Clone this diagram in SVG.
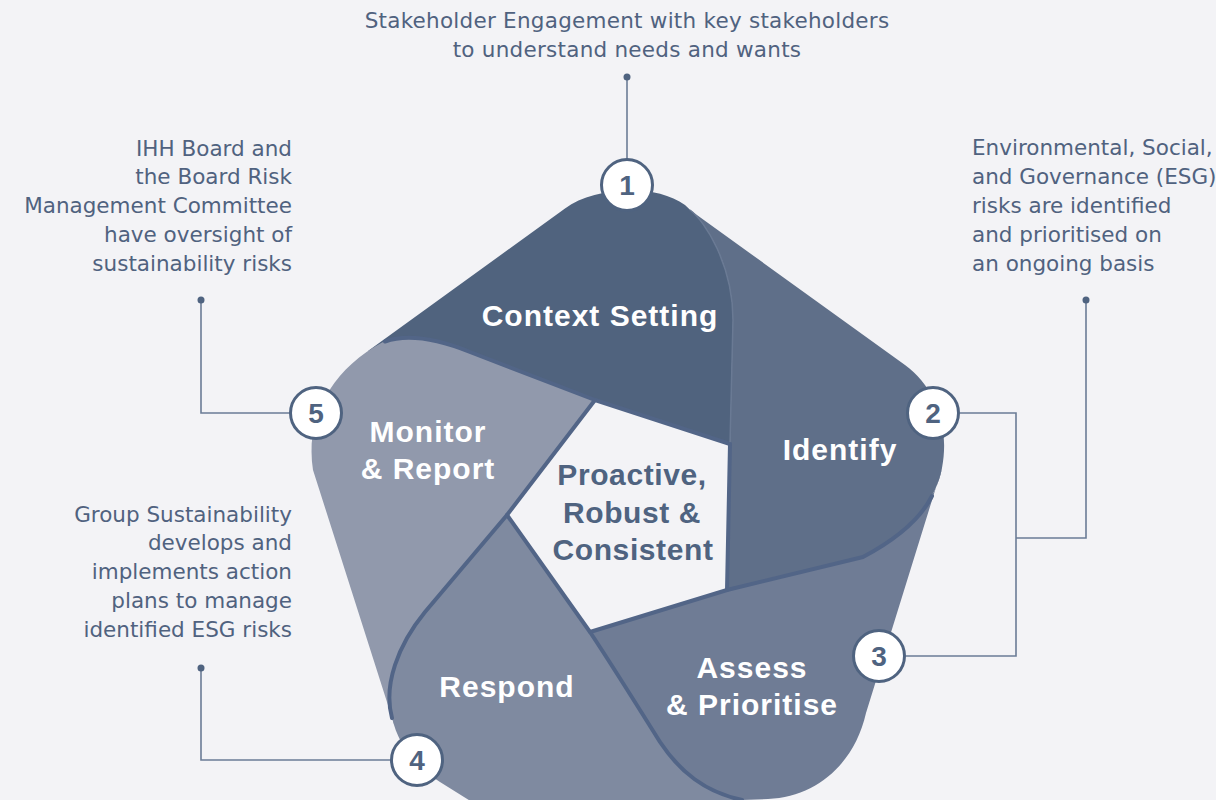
<svg xmlns="http://www.w3.org/2000/svg" width="1216" height="800" viewBox="0 0 1216 800">
  <defs>
    <style>
      .body { font-family: "DejaVu Sans", "Liberation Sans", sans-serif; font-size: 21.5px; fill: #50627f; }
      .wide { letter-spacing: 0.25px; }
      .lbl { font-family: "Liberation Sans", Arial, sans-serif; font-weight: bold; font-size: 30px; fill: #ffffff; letter-spacing: 1px; text-anchor: middle; }
      .ctr { font-family: "Liberation Sans", Arial, sans-serif; font-weight: bold; font-size: 30px; fill: #4f6380; letter-spacing: 0.6px; text-anchor: middle; }
      .num { font-family: "Liberation Sans", Arial, sans-serif; font-weight: bold; font-size: 28px; fill: #4f6380; text-anchor: middle; }
      .badge { fill: #ffffff; stroke: #4f6380; stroke-width: 3; }
      .conn { fill: none; stroke: #6b7c96; stroke-width: 1.6; }
      .dot { fill: #4f6380; }
      .edge { fill: none; stroke: #526587; stroke-width: 4; stroke-linejoin: round; stroke-linecap: round; }
    </style>
  </defs>
  <rect width="1216" height="800" fill="#f3f3f6"/>

  <!-- blades -->
  <g id="blade-context">
    <path d="M 368,351 L 565,208.5 C 595,186.5 655,183.4 685,205 L 690,209.8 C 705,221 733,265 733,320 L 730,444 L 595,400 L 470,352 L 420,346 Z" fill="#50637e"/>
    <text class="lbl" x="600" y="326">Context Setting</text>
  </g>
  <g id="blade-monitor">
    <path d="M 595,400 L 507,515 L 425,612 L 430,690 L 394,724 L 313,470 C 305,420 330,370 383,342 C 410,332 440,340 470,352 Z" fill="#9199ac"/>
    <text class="lbl" x="428" y="442">Monitor</text>
    <text class="lbl" x="428" y="479">&amp; Report</text>
  </g>
  <g id="blade-respond">
    <path d="M 507,515 L 425,612 C 398,645 383,685 392,718 C 398,742 412,765 440,782 L 472,802 L 745,802 L 700,700 L 590,632 Z" fill="#7f8aa0"/>
    <text class="lbl" x="507" y="697">Respond</text>
  </g>
  <g id="blade-assess">
    <path d="M 590,632 L 727,590 L 863,557 C 905,535 935,505 942,468 L 866,713 C 855,762 818,797 768,799 L 742,800 C 705,792 680,772 660,742 C 640,710 610,662 590,632 Z" fill="#6f7c95"/>
    <text class="lbl" x="752" y="678">Assess</text>
    <text class="lbl" x="752" y="715">&amp; Prioritise</text>
  </g>
  <g id="blade-identify">
    <path d="M 690,210 L 905,365 C 935,387 950,425 942,468 C 935,505 905,535 863,557 L 727,590 L 730,444 L 733,320 C 733,265 705,221 690,210 Z" fill="#5f6f89"/>
    <text class="lbl" x="840" y="460">Identify</text>
  </g>

  <!-- blade borders -->
  <g id="borders">
    <path class="edge" d="M 385,341.5 C 410,333 440,340 470,352 L 595,400 L 730,444" stroke="#586a88" stroke-linecap="butt"/>
    <path d="M 690,210 C 705,221 733,265 733,320 L 730,444" fill="none" stroke="#6a7a94" stroke-width="1.5"/>
    <path class="edge" d="M 730,444 L 727,590"/>
    <path class="edge" d="M 590,632 L 727,590 L 863,557 C 895,540 920,520 932,496" stroke-linecap="butt"/>
    <path class="edge" d="M 507,515 L 590,632 C 610,662 640,710 660,742 C 680,772 705,792 742,800"/>
    <path class="edge" d="M 595,400 L 507,515 L 425,612 C 398,645 383,685 392,718" stroke-linecap="butt"/>
  </g>

  <g id="center-label">
    <text class="ctr" x="632" y="485">Proactive,</text>
    <text class="ctr" x="632" y="523">Robust &amp;</text>
    <text class="ctr" x="633" y="560">Consistent</text>
  </g>

  <!-- connectors -->
  <g id="connectors">
    <path class="conn" d="M 627,77 L 627,159"/>
    <circle class="dot" cx="627" cy="77" r="3.5"/>
    <path class="conn" d="M 960,413 L 1016,413 L 1016,656 L 906,656 M 1016,538 L 1086,538 L 1086,300"/>
    <circle class="dot" cx="1086" cy="300" r="3.5"/>
    <path class="conn" d="M 201,300 L 201,413 L 290,413"/>
    <circle class="dot" cx="201" cy="300" r="3.5"/>
    <path class="conn" d="M 201,668 L 201,760 L 391,760"/>
    <circle class="dot" cx="201" cy="668" r="3.5"/>
  </g>

  <!-- badges -->
  <g id="badge-1"><circle class="badge" cx="627" cy="185" r="25.5"/><text class="num" x="627" y="195">1</text></g>
  <g id="badge-2"><circle class="badge" cx="933" cy="413" r="25.5"/><text class="num" x="933" y="423">2</text></g>
  <g id="badge-3"><circle class="badge" cx="879" cy="656" r="25.5"/><text class="num" x="879" y="666">3</text></g>
  <g id="badge-4"><circle class="badge" cx="417" cy="760" r="25.5"/><text class="num" x="417" y="770">4</text></g>
  <g id="badge-5"><circle class="badge" cx="316" cy="413" r="25.5"/><text class="num" x="316" y="423">5</text></g>

  <!-- callout texts -->
  <g id="note-1">
    <text class="body wide" x="627" y="28" text-anchor="middle">Stakeholder Engagement with key stakeholders</text>
    <text class="body wide" x="627" y="57" text-anchor="middle">to understand needs and wants</text>
  </g>
  <g id="note-2-3">
    <text class="body" x="972" y="155">Environmental, Social,</text>
    <text class="body" x="972" y="184">and Governance (ESG)</text>
    <text class="body" x="972" y="213">risks are identified</text>
    <text class="body" x="972" y="242">and prioritised on</text>
    <text class="body" x="972" y="271">an ongoing basis</text>
  </g>
  <g id="note-5">
    <text class="body" x="292" y="156" text-anchor="end">IHH Board and</text>
    <text class="body" x="292" y="184" text-anchor="end">the Board Risk</text>
    <text class="body" x="292" y="213" text-anchor="end">Management Committee</text>
    <text class="body" x="292" y="242" text-anchor="end">have oversight of</text>
    <text class="body" x="292" y="271" text-anchor="end">sustainability risks</text>
  </g>
  <g id="note-4">
    <text class="body" x="292" y="522" text-anchor="end">Group Sustainability</text>
    <text class="body" x="292" y="550" text-anchor="end">develops and</text>
    <text class="body" x="292" y="579" text-anchor="end">implements action</text>
    <text class="body" x="292" y="608" text-anchor="end">plans to manage</text>
    <text class="body" x="292" y="637" text-anchor="end">identified ESG risks</text>
  </g>
</svg>
